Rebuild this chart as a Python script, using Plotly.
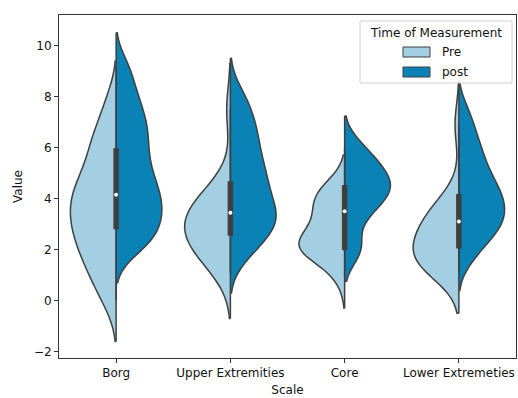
import numpy as np
import plotly.graph_objects as go

# ---------------- data ----------------
scales = ["Borg", "Upper Extremities", "Core", "Lower Extremeties"]
times = ["Pre", "post"]

pre_borg = [0.0, 0.7, 1.2, 1.6, 2.0, 2.3, 2.6, 2.9, 3.2, 3.5, 3.7, 4.0, 4.3, 4.6, 4.9, 5.3, 5.9, 6.3, 6.8, 7.8]
post_borg = [2.0, 2.3, 2.6, 2.9, 3.2, 3.5, 3.7, 4.0, 4.3, 4.6, 4.9, 5.3, 5.7, 6.1, 6.5, 6.9, 7.3, 7.8, 8.4, 9.2]
pre_upper = [1.1, 1.4, 1.7, 1.9, 2.1, 2.3, 2.4, 2.6, 2.7, 2.9, 3.0, 3.2, 3.3, 3.5, 3.6, 3.8, 4.0, 4.2, 4.6, 7.5]
post_upper = [1.7, 2.2, 2.5, 2.8, 3.0, 3.2, 3.4, 3.6, 3.9, 4.2, 4.5, 4.8, 5.1, 5.4, 5.8, 6.2, 6.6, 7.0, 7.5, 8.1]
pre_core = [0.9, 1.5, 2.0, 2.0, 2.0, 2.0, 2.0, 2.0, 2.5, 2.5, 2.5, 3.0, 3.0, 3.5, 3.5, 4.0, 4.0, 4.0, 4.5, 4.5]
post_core = [2.0, 2.0, 2.0, 3.0, 3.5, 3.5, 4.0, 4.0, 4.0, 4.5, 4.5, 4.5, 4.5, 5.0, 5.0, 5.0, 5.5, 5.5, 6.0, 6.0]
pre_lower = [1.1, 1.2, 1.3, 1.4, 1.5, 1.7, 1.8, 1.9, 2.0, 2.2, 2.4, 2.6, 2.8, 3.0, 3.1, 3.3, 3.5, 3.7, 4.1, 6.9]
post_lower = [1.6, 2.1, 2.5, 2.7, 2.9, 3.1, 3.3, 3.5, 3.7, 3.9, 4.1, 4.3, 4.5, 4.8, 5.1, 5.4, 5.8, 6.2, 6.7, 7.4]

y_ticks = [-2, 0, 2, 4, 6, 8, 10]
y_ticktext = ["\u22122", "0", "2", "4", "6", "8", "10"]

# ---------------- styles ----------------
pre_color = "#a4cee2"
post_color = "#0a82b6"
edge = "#3f3f3f"
kde_bw = {  # kernel bandwidth per (Pre, post) half
    "Borg": (0.8, 0.65),
    "Upper Extremities": (0.9, 0.7),
    "Core": (0.6, 0.62),
    "Lower Extremeties": (0.8, 0.6),
}
groups = {
    "Borg": (pre_borg, post_borg),
    "Upper Extremities": (pre_upper, post_upper),
    "Core": (pre_core, post_core),
    "Lower Extremeties": (pre_lower, post_lower),
}

fig = go.Figure()

for s in scales:
    halves = groups[s]
    for j, (t, side, col) in enumerate(zip(times, ["negative", "positive"], [pre_color, post_color])):
        vals = halves[j]
        fig.add_trace(go.Violin(
            x=[s] * len(vals), y=vals, name=t, legendgroup=t, showlegend=False,
            side=side, scalegroup=s, scalemode="width", width=0.8,
            bandwidth=kde_bw[s][j], spanmode="soft", points=False,
            fillcolor=col, opacity=1, line=dict(color=edge, width=1.5),
            box_visible=False, meanline_visible=False, hoveron="violins",
        ))

# split line along the middle of each violin (extent of the kde support)
for s in scales:
    ends = []
    for j in range(2):
        v = np.array(groups[s][j])
        ends += [v.min() - 2 * kde_bw[s][j], v.max() + 2 * kde_bw[s][j]]
    fig.add_trace(go.Scatter(
        x=[s, s], y=[min(ends), max(ends)], mode="lines", showlegend=False, hoverinfo="skip",
        line=dict(color=edge, width=1.5),
    ))

for s in scales:
    comb = np.array(groups[s][0] + groups[s][1])
    q1, med, q3 = np.percentile(comb, [25, 50, 75])
    iqr = q3 - q1
    lo = comb[comb >= q1 - 1.5 * iqr].min()
    hi = comb[comb <= q3 + 1.5 * iqr].max()
    fig.add_trace(go.Box(
        x=[s], q1=[q1], median=[med], q3=[q3], lowerfence=[lo], upperfence=[hi],
        width=0.035, fillcolor=edge, line=dict(color=edge, width=1.5),
        whiskerwidth=0, boxpoints=False, showlegend=False, hoverinfo="skip",
    ))
    fig.add_trace(go.Scatter(
        x=[s], y=[med], mode="markers", showlegend=False, hoverinfo="skip",
        marker=dict(color="white", size=4, line=dict(width=0)),
    ))

# ---------------- layout ----------------
L, R, T, B = 59, 2, 15, 40
W, H = 518, 398
pw, ph = W - L - R, H - T - B


def px_x(p):
    return (p - L) / pw


def px_y(p):
    return (H - B - p) / ph


font = dict(family="DejaVu Sans", size=12, color="#111111")

fig.update_layout(
    width=W, height=H, margin=dict(l=L, r=R, t=T, b=B),
    paper_bgcolor="white", plot_bgcolor="white",
    violinmode="overlay", boxmode="overlay", showlegend=False,
    font=font,
)
fig.update_xaxes(
    type="category", categoryorder="array", categoryarray=scales, range=[-0.5, 3.5],
    showline=True, mirror=True, linecolor="#333333", linewidth=1,
    ticks="outside", ticklen=4, tickcolor="#333333", showgrid=False, zeroline=False,
    title=dict(text="Scale", font=font, standoff=6), tickfont=font,
)
fig.update_yaxes(
    range=[-2.25, 11.2], tickvals=y_ticks, ticktext=y_ticktext,
    showline=True, mirror=True, linecolor="#333333", linewidth=1,
    ticks="outside", ticklen=4, tickcolor="#333333", showgrid=False, zeroline=False,
    title=dict(text="Value", font=font, standoff=8), tickfont=font,
)

# legend (drawn in the matplotlib style)
shapes = [
    dict(type="rect", xref="paper", yref="paper", x0=px_x(360), x1=px_x(512), y0=px_y(83), y1=px_y(21),
         fillcolor="rgba(255,255,255,0.85)", line=dict(color="#d0d0d0", width=1), layer="above"),
]
annotations = [
    dict(xref="paper", yref="paper", x=px_x(436), y=px_y(33), text="Time of Measurement",
         showarrow=False, xanchor="center", yanchor="middle", font=font),
]
for t, col, yc in zip(times, [pre_color, post_color], [52, 72]):
    shapes.append(dict(type="rect", xref="paper", yref="paper", x0=px_x(403), x1=px_x(430),
                       y0=px_y(yc + 5), y1=px_y(yc - 5), fillcolor=col,
                       line=dict(color=edge, width=1), layer="above"))
    annotations.append(dict(xref="paper", yref="paper", x=px_x(440), y=px_y(yc), text=t,
                            showarrow=False, xanchor="left", yanchor="middle", font=font))
fig.update_layout(shapes=shapes, annotations=annotations)

fig.write_html("out.html")
